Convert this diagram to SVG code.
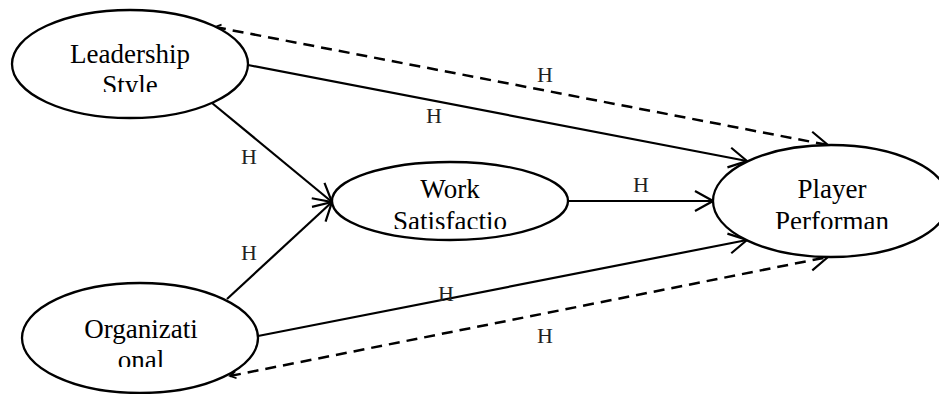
<svg xmlns="http://www.w3.org/2000/svg" width="939" height="394" viewBox="0 0 939 394">
<style>
.node{fill:#fff;stroke:#000;stroke-width:2.3}
.nt{font-family:"Liberation Serif","Times New Roman",serif;font-size:27px;fill:#000;text-anchor:middle}
.lbl{font-family:"Liberation Serif","Times New Roman",serif;font-size:22px;fill:#222;text-anchor:middle}
.edge{fill:none;stroke:#000;stroke-width:2.2}
.dash{stroke-width:2.5;stroke-dasharray:11 7}
</style>
<defs>
<marker id="arr" viewBox="-20 -12 22 24" refX="0" refY="0" markerWidth="22" markerHeight="24" markerUnits="userSpaceOnUse" orient="auto">
<path d="M-18,-10 L0,0 L-18,10" fill="none" stroke="#000" stroke-width="2.2" stroke-dasharray="none"/>
</marker>
<marker id="sm" viewBox="-8 -5 10 10" refX="0" refY="0" markerWidth="10" markerHeight="10" markerUnits="userSpaceOnUse" orient="auto-start-reverse">
<path d="M-6,-3.5 L0,0 L-6,3.5" fill="none" stroke="#000" stroke-width="1.8" stroke-dasharray="none"/>
</marker>
<clipPath id="cL"><rect x="0" y="0" width="260" height="92"/></clipPath>
<clipPath id="cW"><rect x="330" y="140" width="240" height="89"/></clipPath>
<clipPath id="cP"><rect x="710" y="140" width="229" height="89"/></clipPath>
<clipPath id="cO"><rect x="20" y="280" width="240" height="87"/></clipPath>
</defs>
<g id="connectors">
<line class="edge dash" x1="215" y1="27" x2="828" y2="145" marker-start="url(#sm)" marker-end="url(#arr)"/>
<line class="edge" x1="248" y1="65" x2="747" y2="161" marker-end="url(#arr)"/>
<line class="edge" x1="212" y1="103" x2="332" y2="202" marker-end="url(#arr)"/>
<line class="edge" x1="227" y1="299" x2="332" y2="202" marker-end="url(#arr)"/>
<line class="edge" x1="568" y1="201" x2="713" y2="201" marker-end="url(#arr)"/>
<line class="edge" x1="258" y1="336" x2="747" y2="240" marker-end="url(#arr)"/>
<line class="edge dash" x1="230" y1="376" x2="828" y2="257" marker-start="url(#sm)" marker-end="url(#arr)"/>
<text class="lbl" x="545" y="82">H</text>
<text class="lbl" x="434" y="123">H</text>
<text class="lbl" x="249" y="164">H</text>
<text class="lbl" x="249" y="260">H</text>
<text class="lbl" x="641" y="192">H</text>
<text class="lbl" x="446" y="301">H</text>
<text class="lbl" x="545" y="343">H</text>
</g>
<g id="leadership">
<ellipse class="node" cx="130" cy="64" rx="118" ry="54"/>
<g clip-path="url(#cL)">
<text class="nt" x="130" y="63">Leadership</text>
<text class="nt" x="130" y="94">Style</text>
</g>
</g>
<g id="work">
<ellipse class="node" cx="450" cy="201" rx="118" ry="39"/>
<g clip-path="url(#cW)">
<text class="nt" x="450" y="198">Work</text>
<text class="nt" x="450" y="230">Satisfactio</text>
</g>
</g>
<g id="player">
<ellipse class="node" cx="831" cy="201" rx="118" ry="56"/>
<g clip-path="url(#cP)">
<text class="nt" x="832" y="198">Player</text>
<text class="nt" x="832" y="230">Performan</text>
</g>
</g>
<g id="org">
<ellipse class="node" cx="140" cy="338" rx="118" ry="55"/>
<g clip-path="url(#cO)">
<text class="nt" x="141" y="338">Organizati</text>
<text class="nt" x="141" y="369">onal</text>
</g>
</g>
</svg>
